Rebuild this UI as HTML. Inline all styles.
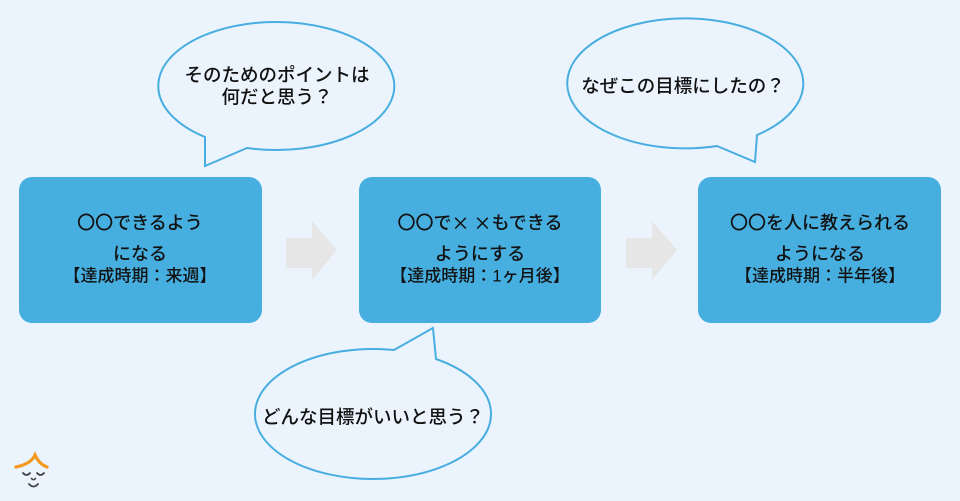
<!DOCTYPE html>
<html><head><meta charset="utf-8">
<style>
html,body{margin:0;padding:0;background:#EBF4FD;}
svg{display:block;}
text{font-family:"Liberation Sans","Noto Sans CJK JP",sans-serif;fill:#111;font-weight:500;}
</style></head>
<body>
<svg width="960" height="501" viewBox="0 0 960 501" xmlns="http://www.w3.org/2000/svg">
<rect x="0" y="0" width="960" height="501" fill="#EBF4FD"/>

<!-- bubble 1 -->
<path d="M205,137 A118,64 0 1 1 247,148 L205,166 Z" fill="#EBF4FD" stroke="#48AEE0" stroke-width="2" stroke-linejoin="miter"/>
<text x="277" y="75" font-size="18.5" text-anchor="middle" dominant-baseline="central">そのためのポイントは</text>
<text x="277" y="97" font-size="18.5" text-anchor="middle" dominant-baseline="central">何だと思う？</text>

<!-- bubble 3 -->
<path d="M717,146 A118,65 0 1 1 757,135 L755,162 Z" fill="#EBF4FD" stroke="#48AEE0" stroke-width="2"/>
<text x="683" y="86" font-size="18.5" text-anchor="middle" dominant-baseline="central">なぜこの目標にしたの？</text>

<!-- bubble 2 -->
<path d="M436,359 A118,65 0 1 1 394,350 L433,328 Z" fill="#EBF4FD" stroke="#48AEE0" stroke-width="2"/>
<text x="373" y="417" font-size="18.5" text-anchor="middle" dominant-baseline="central">どんな目標がいいと思う？</text>

<!-- boxes -->
<rect x="19" y="177" width="243" height="146" rx="13" fill="#47AFE0"/>
<rect x="359" y="177" width="242" height="146" rx="13" fill="#47AFE0"/>
<rect x="698" y="177" width="243" height="146" rx="13" fill="#47AFE0"/>

<text x="140" y="223" font-size="18" text-anchor="middle" dominant-baseline="central">〇〇できるよう</text>
<text x="140" y="254" font-size="18" text-anchor="middle" dominant-baseline="central">になる</text>
<text x="140" y="276" font-size="17" text-anchor="middle" dominant-baseline="central">【達成時期：来週】</text>

<text x="480" y="223" font-size="18" text-anchor="middle" dominant-baseline="central">〇〇で<tspan font-family="Noto Sans CJK JP, sans-serif">×</tspan><tspan font-family="Noto Sans CJK JP, sans-serif" dx="4">×</tspan>もできる</text>
<text x="480" y="254" font-size="18" text-anchor="middle" dominant-baseline="central">ようにする</text>
<text x="480" y="276" font-size="17" text-anchor="middle" dominant-baseline="central">【達成時期：1ヶ月後】</text>

<text x="820" y="223" font-size="18" text-anchor="middle" dominant-baseline="central">〇〇を人に教えられる</text>
<text x="820" y="254" font-size="18" text-anchor="middle" dominant-baseline="central">ようになる</text>
<text x="820" y="276" font-size="17" text-anchor="middle" dominant-baseline="central">【達成時期：半年後】</text>

<!-- arrows -->
<polygon points="286,238 312,238 312,221 337,250 312,280 312,268 286,268" fill="#E6E6E6"/>
<polygon points="626,238 652,238 652,221 677,250 652,280 652,268 626,268" fill="#E6E6E6"/>

<!-- logo -->
<path d="M16,467 Q31,464 35,455 Q39,464 47,467" fill="none" stroke="#F39A1E" stroke-width="3.2" stroke-linecap="round"/>
<path d="M23,473 Q26.5,477 30,473" fill="none" stroke="#444" stroke-width="1.8" stroke-linecap="round"/>
<path d="M37,473 Q40.5,477 44,473" fill="none" stroke="#444" stroke-width="1.8" stroke-linecap="round"/>
<path d="M31.5,478.5 Q33.5,481 35.5,478.5" fill="none" stroke="#444" stroke-width="1.6" stroke-linecap="round"/>
<path d="M29,484 Q33.5,489 38,484" fill="none" stroke="#444" stroke-width="1.8" stroke-linecap="round"/>
</svg>
</body></html>
